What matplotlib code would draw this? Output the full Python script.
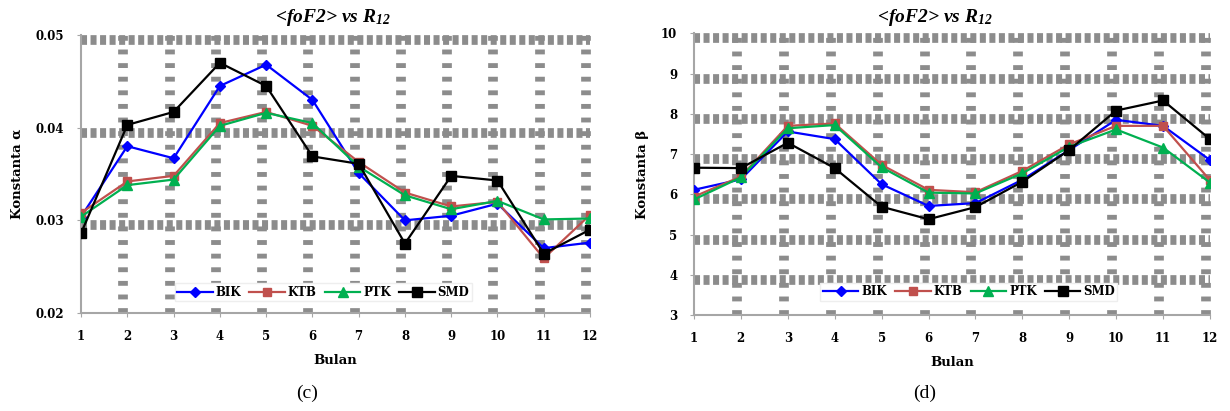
import matplotlib.pyplot as plt
from matplotlib.transforms import offset_copy

# Data
bulan = list(range(1, 13))
stasiun = ['BIK', 'KTB', 'PTK', 'SMD']

alpha_bik = [0.0304, 0.0380, 0.0367, 0.0445, 0.0468, 0.0430, 0.0351, 0.0300, 0.0305, 0.0318, 0.0270, 0.0276]
alpha_ktb = [0.0308, 0.0342, 0.0348, 0.0405, 0.0417, 0.0402, 0.0363, 0.0330, 0.0315, 0.0320, 0.0259, 0.0306]
alpha_ptk = [0.0304, 0.0338, 0.0344, 0.0402, 0.0416, 0.0405, 0.0358, 0.0327, 0.0312, 0.0321, 0.0301, 0.0302]
alpha_smd = [0.0286, 0.0403, 0.0417, 0.0470, 0.0445, 0.0369, 0.0361, 0.0275, 0.0348, 0.0343, 0.0264, 0.0290]

beta_bik = [6.11, 6.37, 7.56, 7.37, 6.25, 5.71, 5.78, 6.36, 7.10, 7.85, 7.70, 6.85]
beta_ktb = [5.94, 6.44, 7.70, 7.76, 6.73, 6.11, 6.05, 6.58, 7.24, 7.70, 7.70, 6.35]
beta_ptk = [5.87, 6.42, 7.64, 7.72, 6.67, 6.04, 6.02, 6.52, 7.18, 7.61, 7.16, 6.29]
beta_smd = [6.66, 6.65, 7.28, 6.65, 5.69, 5.38, 5.68, 6.31, 7.10, 8.08, 8.33, 7.37]

yticks_alpha = [0.02, 0.03, 0.04, 0.05]
yticks_beta = [3, 4, 5, 6, 7, 8, 9, 10]

warna = ['#0000ff', '#c0504d', '#00b050', '#000000']
penanda = ['D', 's', '^', 's']
ukuran = [5, 6, 6.5, 7.5]
abu = '#8c8c8c'
huruf = 'DejaVu Serif'

# subskrip judul juga miring tebal
plt.rcParams['mathtext.fontset'] = 'custom'
plt.rcParams['mathtext.rm'] = 'Liberation Serif:italic:bold'
plt.rcParams['mathtext.it'] = 'Liberation Serif:italic:bold'

fig = plt.figure(figsize=(12.3, 4.11), dpi=100)
ax1 = fig.add_axes([0.0659, 0.2384, 0.4138, 0.6764])
ax2 = fig.add_axes([0.5642, 0.2336, 0.4195, 0.6854])


def gambar(ax, seri, yticks, fmt, ylabel, leg_pos):
    # garis grid tebal putus-putus (sedikit bergeser seperti aslinya)
    tr_h = offset_copy(ax.get_yaxis_transform(), fig=fig, x=0, y=-5, units='dots')
    tr_v = offset_copy(ax.get_xaxis_transform(), fig=fig, x=-4, y=0, units='dots')
    for y in yticks[1:]:
        ax.plot([0, 1], [y, y], transform=tr_h, color=abu, lw=7,
                ls=(0, (0.62, 0.36)), zorder=1, clip_on=False)
    for x in bulan[1:]:
        ax.plot([x, x], [0, 1], transform=tr_v, color=abu, lw=7,
                ls=(0, (0.5, 0.9)), zorder=1, clip_on=False)

    for i, nilai in enumerate(seri):
        ax.plot(bulan, nilai, color=warna[i], marker=penanda[i], markersize=ukuran[i],
                lw=1.6, label=stasiun[i], zorder=3 + i)

    ax.set_xlim(1, 12)
    ax.set_ylim(yticks[0], yticks[-1])
    ax.set_xticks(bulan)
    ax.set_yticks(yticks)
    ax.set_yticklabels([fmt.format(v) for v in yticks])
    for s in ['top', 'right']:
        ax.spines[s].set_visible(False)
    for s in ['left', 'bottom']:
        ax.spines[s].set_color('#a6a6a6')
        ax.spines[s].set_linewidth(1.5)
    ax.tick_params(axis='x', length=3, pad=9, color='#a6a6a6')
    ax.tick_params(axis='y', length=3, pad=9, color='#a6a6a6')
    for lbl in ax.get_xticklabels() + ax.get_yticklabels():
        lbl.set_fontfamily(huruf)
        lbl.set_fontweight('bold')
        lbl.set_fontsize(8.5)
    ax.set_xlabel('Bulan', family=huruf, weight='bold', size=9.5, labelpad=8)
    ax.set_ylabel(ylabel, family=huruf, weight='bold', size=9.5, labelpad=9)
    ax.legend(loc='center', bbox_to_anchor=leg_pos, ncol=4, frameon=True, fancybox=False,
              edgecolor='#eeeeee', framealpha=1, handlelength=3.0, columnspacing=0.7,
              handletextpad=0.25, borderpad=0.2,
              prop=dict(family=huruf, weight='bold', size=8.5))


gambar(ax1, [alpha_bik, alpha_ktb, alpha_ptk, alpha_smd], yticks_alpha, '{:.2f}',
       'Konstanta α', (0.476, 0.075))
gambar(ax2, [beta_bik, beta_ktb, beta_ptk, beta_smd], yticks_beta, '{:d}',
       'Konstanta β', (0.533, 0.082))

judul = '<foF2> vs $R_{12}$'
fig.text(333 / 1230, 1 - 18 / 411, judul, ha='center', va='center', family='Liberation Serif',
         style='italic', weight='bold', size=14)
fig.text(935 / 1230, 1 - 18 / 411, judul, ha='center', va='center', family='Liberation Serif',
         style='italic', weight='bold', size=14)

fig.text(307 / 1230, 1 - 393 / 411, '(c)', ha='center', va='center', family='Liberation Serif', size=14)
fig.text(925 / 1230, 1 - 393 / 411, '(d)', ha='center', va='center', family='Liberation Serif', size=14)

fig.savefig('out.png', dpi=100)
